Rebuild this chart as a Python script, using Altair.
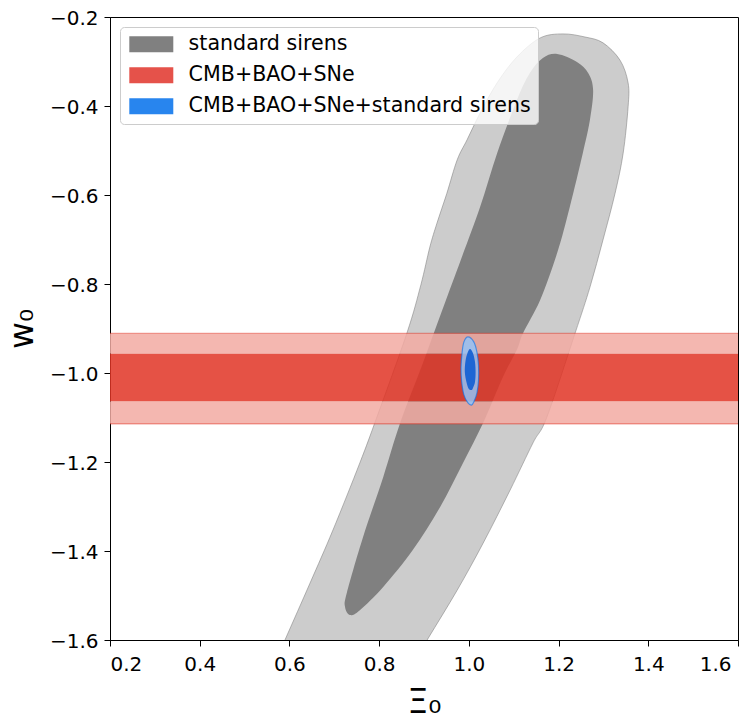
import altair as alt
import pandas as pd

# ---------------- values ----------------
x_ticks = [0.2, 0.4, 0.6, 0.8, 1.0, 1.2, 1.4, 1.6]
y_ticks = [-1.6, -1.4, -1.2, -1.0, -0.8, -0.6, -0.4, -0.2]

series = ["standard sirens", "CMB+BAO+SNe", "CMB+BAO+SNe+standard sirens"]
series_colors = ["#808080", "#e5524a", "#2885ee"]

# standard sirens, outer (2-sigma) contour; runs past the bottom edge (clipped)
sirens_outer_x = [1.210, 1.259, 1.299, 1.337, 1.355, 1.355, 1.344, 1.326, 1.299, 1.270, 1.237,
                  1.174, 1.143, 1.092, 1.032, 0.974, 0.907, 0.840,
                  0.541, 0.590, 0.646, 0.697, 0.757, 0.795, 0.862,
                  0.893, 0.913, 0.929, 0.951, 0.974, 0.996, 1.025, 1.063, 1.107, 1.159]
sirens_outer_y = [-0.238, -0.245, -0.258, -0.297, -0.348, -0.402, -0.506, -0.596, -0.701, -0.807, -0.910,
                  -1.099, -1.157, -1.263, -1.382, -1.488, -1.600, -1.712,
                  -1.712, -1.600, -1.472, -1.353, -1.202, -1.099, -0.910,
                  -0.802, -0.717, -0.663, -0.596, -0.521, -0.476, -0.416, -0.348, -0.290, -0.247]

# standard sirens, inner (1-sigma) contour
sirens_inner_x = [1.197, 1.241, 1.266, 1.277, 1.270, 1.254, 1.225, 1.197, 1.159, 1.121,
                  1.107, 1.076, 1.032, 0.987, 0.936, 0.875, 0.809, 0.757, 0.735, 0.724,
                  0.728, 0.764, 0.809, 0.847, 0.896, 0.922, 0.949, 0.982, 1.025, 1.063,
                  1.107, 1.136, 1.165]
sirens_inner_y = [-0.283, -0.301, -0.326, -0.364, -0.431, -0.506, -0.627, -0.730, -0.836, -0.910,
                  -0.948, -1.009, -1.112, -1.202, -1.301, -1.398, -1.481, -1.533, -1.544, -1.526,
                  -1.494, -1.369, -1.234, -1.112, -0.982, -0.910, -0.836, -0.746, -0.627, -0.506,
                  -0.387, -0.326, -0.292]

# CMB+BAO+SNe horizontal band (w0 limits), spanning the whole Xi0 range
cmb_x = [0.2, 1.6]
cmb_outer_top = -0.911
cmb_inner_top = -0.957
cmb_inner_bottom = -1.064
cmb_outer_bottom = -1.114

# combined constraint, outer contour
comb_outer_x = [0.998, 1.011, 1.018, 1.0215, 1.0215, 1.018, 1.011, 1.006, 0.998, 0.989,
                0.984, 0.9825, 0.985, 0.989]
comb_outer_y = [-0.919, -0.930, -0.953, -0.982, -1.016, -1.045, -1.065, -1.072, -1.067, -1.049,
                -1.020, -0.989, -0.953, -0.930]
# combined constraint, inner contour
comb_inner_x = [1.0026, 1.009, 1.0137, 1.015, 1.0137, 1.009, 1.006, 1.000, 0.995, 0.991,
                0.9925, 0.997]
comb_inner_y = [-0.946, -0.955, -0.975, -0.998, -1.020, -1.034, -1.038, -1.036, -1.022, -0.998,
                -0.973, -0.955]


def poly(xs, ys):
    return pd.DataFrame({"x": xs, "y": ys, "i": list(range(len(xs)))})


x_scale = alt.Scale(domain=[cmb_x[0], cmb_x[1]], nice=False, zero=False)
y_scale = alt.Scale(domain=[y_ticks[0], y_ticks[-1]], nice=False, zero=False)
x_axis = alt.Axis(
    values=x_ticks, format=".1f", title="Ξ₀", labelPadding=8, titlePadding=12,
    labelOffset={"condition": {"test": "datum.value > 1.55", "value": -7}, "value": 0},
)
y_axis = alt.Axis(values=y_ticks, format=".1f", title="w₀", labelPadding=6, titlePadding=10,
                  labelOffset=1)
X = alt.X("x:Q", scale=x_scale, axis=x_axis)
Y = alt.Y("y:Q", scale=y_scale, axis=y_axis)


def polygon(df, fill, fill_opacity=1.0, stroke=None, stroke_opacity=0.0, stroke_width=1.0):
    return alt.Chart(df).mark_line(
        fill=fill,
        fillOpacity=fill_opacity,
        stroke=stroke if stroke else fill,
        strokeOpacity=stroke_opacity,
        strokeWidth=stroke_width,
        interpolate="cardinal-closed",
        clip=True,
    ).encode(x=X, y=Y, order="i:Q")


sirens_outer = polygon(poly(sirens_outer_x, sirens_outer_y), "#cccccc",
                       stroke="#808080", stroke_opacity=0.55, stroke_width=1.0)
sirens_inner = polygon(poly(sirens_inner_x, sirens_inner_y), "#808080")

bands = pd.DataFrame({
    "x": [cmb_x[0]] * 3,
    "x2": [cmb_x[1]] * 3,
    "y": [cmb_inner_top, cmb_inner_bottom, cmb_outer_bottom],
    "y2": [cmb_outer_top, cmb_inner_top, cmb_inner_bottom],
    "level": ["outer", "inner", "outer"],
})
band_rects = alt.Chart(bands).mark_rect(opacity=0.85, strokeWidth=0).encode(
    x=X, x2="x2:Q", y=Y, y2="y2:Q",
    fill=alt.Fill("level:N", scale=alt.Scale(domain=["outer", "inner"],
                                             range=["#f2aaa2", "#e03424"]), legend=None),
)
edges = pd.DataFrame({"x": [cmb_x[0]] * 2, "x2": [cmb_x[1]] * 2,
                      "y": [cmb_outer_top, cmb_outer_bottom]})
band_edges = alt.Chart(edges).mark_rule(color="#e03424", opacity=0.45, strokeWidth=1.3).encode(
    x=X, x2="x2:Q", y=Y
)

comb_outer = polygon(poly(comb_outer_x, comb_outer_y), "#94c3f7", fill_opacity=0.85,
                     stroke="#006fed", stroke_opacity=0.6, stroke_width=1.2)
comb_inner = polygon(poly(comb_inner_x, comb_inner_y), "#1e66d4")

legend = alt.Legend(
    title=None, orient="top-left", offset=10,
    symbolType="M-2.75,-1H2.75V1H-2.75Z", symbolSize=256, symbolOffset=14,
    symbolStrokeWidth=0, symbolOpacity=1, labelOffset=27,
    labelFont="DejaVu Sans", labelFontSize=20.6, labelColor="black", labelLimit=600,
    padding=7, rowPadding=10, fillColor="rgba(255,255,255,0.8)",
    strokeColor="#cccccc", cornerRadius=4,
)
legend_layer = alt.Chart(pd.DataFrame({"series": series})).mark_point(
    filled=True, opacity=0
).encode(
    fill=alt.Fill("series:N", scale=alt.Scale(domain=series, range=series_colors), legend=legend)
)

chart = alt.layer(
    sirens_outer, sirens_inner, band_rects, band_edges, comb_outer, comb_inner, legend_layer
).resolve_scale(fill="independent").properties(
    width=628, height=623,
    autosize=alt.AutoSizeParams(type="none"),
    padding={"left": 102, "top": 9, "right": 9, "bottom": 73},
    background="white",
).configure_axis(
    labelFont="DejaVu Sans", labelFontSize=20, labelColor="black",
    titleFont="DejaVu Sans", titleFontSize=33, titleFontWeight="normal", titleColor="black",
    domainColor="black", domainWidth=1, tickColor="black", tickWidth=1, tickSize=6,
    grid=False, zindex=1,
).configure_view(stroke="black", strokeWidth=1)

chart.save("out.html", embed_options={"renderer": "svg", "actions": False})
